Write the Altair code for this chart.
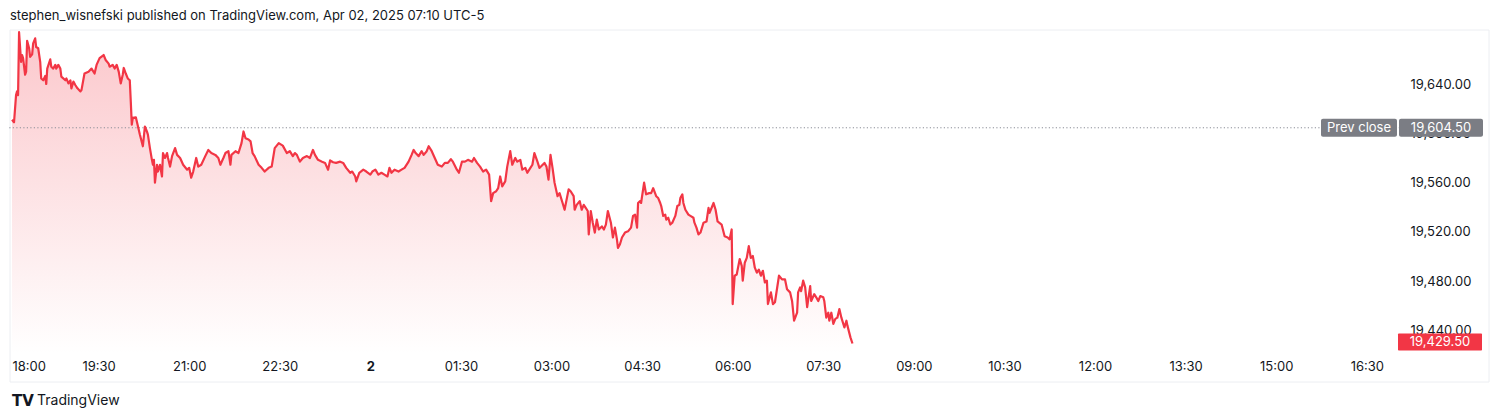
import altair as alt
import pandas as pd

TITLE = "stephen_wisnefski published on TradingView.com, Apr 02, 2025 07:10 UTC-5"
FONT = "Inter"
RED = "#F23645"
INK = "#131722"

# minutes since 18:00 (session start)
minutes = [
    4, 6, 8, 9, 10, 11, 13, 14, 15, 17,
    18, 19, 21, 22, 24, 25, 27, 28, 30, 32,
    33, 35, 37, 38, 39, 42, 43, 45, 47, 48,
    50, 52, 53, 57, 58, 60, 62, 63, 65, 67,
    69, 72, 73, 76, 80, 83, 86, 88, 91, 95,
    97, 100, 101, 104, 106, 108, 110, 112, 114, 115,
    117, 119, 121, 122, 123, 124, 127, 128, 131, 134,
    136, 138, 139, 141, 143, 144, 145, 146, 148, 149,
    151, 153, 154, 156, 158, 159, 161, 163, 166, 168,
    171, 174, 178, 180, 182, 184, 187, 189, 192, 196,
    199, 202, 206, 209, 211, 214, 216, 219, 221, 222,
    226, 229, 232, 234, 236, 239, 241, 243, 245, 249,
    252, 255, 259, 262, 265, 269,
    273, 277, 280, 283,
    285, 287, 290, 293, 297, 300, 303, 305, 308, 312,
    315, 318, 320, 323, 326, 330, 333, 336, 340, 342,
    345, 346, 349, 353, 356, 360, 362, 365, 368, 371,
    374, 377, 379, 381, 384, 388, 391, 394, 398, 401,
    403, 405, 408, 411, 413, 416, 418, 421, 424, 427,
    431, 434, 437, 440, 442, 446, 448, 451, 454, 457,
    461, 463, 466, 469, 472, 475, 478, 480, 482, 485,
    487, 489, 491, 494, 496, 499, 501, 504, 506, 509,
    511, 514, 516, 519, 521, 523, 526, 528, 530, 533,
    535, 537, 539, 541, 543, 546, 548, 551, 553, 557,
    559, 562,
    563, 565, 568, 570, 572, 574, 576, 577,
    579, 581, 583, 585, 587, 590, 592, 594, 596, 599,
    601, 603, 605, 606, 608, 610, 613, 616, 619, 621,
    623, 625, 626, 628, 629, 632, 634, 637, 639, 641,
    644, 646, 648, 649, 651, 653, 654, 656, 658, 660,
    663, 665, 667, 668, 670, 671, 673, 676, 678, 681,
    682, 684, 686,
    688, 691, 694, 696, 697, 701, 703,
    705, 709, 712, 715, 717, 719, 720, 722, 724, 727,
    729, 730, 732, 734, 736, 738, 740, 742, 744, 746,
    748, 750, 752, 754, 755, 758, 760, 762, 766, 769,
    772, 774, 777, 779, 781, 784, 785, 787, 788, 790,
    792, 794, 797, 798, 801, 803, 805, 807, 810, 811,
    813, 815, 816, 818, 820, 822, 824, 826, 828, 831,
    833, 834, 837, 839,
]

prices = [
    19611, 19609, 19631, 19634, 19631, 19682, 19658, 19663.5, 19661, 19647.5,
    19650, 19675, 19669, 19662, 19664, 19673, 19677, 19670, 19669, 19658,
    19644.5, 19643, 19646.5, 19640, 19652.5, 19660, 19654, 19652.5, 19655.5, 19652.5,
    19655.5, 19652.5, 19646, 19643, 19644.5, 19640.5, 19643, 19636.5, 19642, 19639,
    19636.5, 19634, 19635, 19648.5, 19650, 19652.5, 19648.5, 19655.5, 19661, 19663.5,
    19659.5, 19656.5, 19654, 19655.5, 19652.5, 19655.5, 19650, 19640.5, 19647.5, 19653,
    19648.5, 19644.5, 19643, 19625.5, 19607, 19612.5, 19613, 19609.5, 19599, 19589.5,
    19605.5, 19601.5, 19599, 19588, 19578.5, 19574.5, 19578.5, 19560, 19574.5, 19569,
    19574.5, 19565, 19584, 19580, 19584, 19580, 19573, 19581.5, 19588, 19582.5,
    19580, 19574.5, 19570.5, 19572, 19564, 19569, 19580, 19573, 19574.5, 19581.5,
    19586.5, 19584, 19582.5, 19580, 19574.5, 19580, 19584, 19585.5, 19574.5, 19582.5,
    19585.5, 19584, 19592, 19601.5, 19596, 19595, 19593.5, 19584, 19581.5, 19574.5,
    19572, 19569, 19572, 19573, 19588, 19592,
    19590, 19584, 19585.5, 19581.5,
    19584, 19582.5, 19577, 19580, 19581.5, 19580, 19586.5, 19582.5, 19578.5, 19577,
    19576, 19570.5, 19578, 19576.5, 19576, 19577, 19576, 19572, 19568, 19569,
    19565, 19561, 19568, 19570.5, 19569, 19566.5, 19569, 19570.5, 19566.5, 19568,
    19566.5, 19565, 19572, 19568, 19570.5, 19569, 19570.5, 19572, 19577, 19582.5,
    19586.5, 19584, 19581.5, 19585.5, 19582.5, 19585.5, 19589.5, 19585.5, 19580, 19574.5,
    19573, 19576, 19576, 19579, 19577, 19570.5, 19568, 19577, 19577, 19578.5,
    19577, 19580, 19576, 19573, 19569, 19570.5, 19566.5, 19545, 19551.5, 19553,
    19555.5, 19565, 19557, 19561, 19573, 19585.5, 19574.5, 19580, 19577, 19578.5,
    19570.5, 19572, 19568, 19572, 19574.5, 19584, 19577, 19572, 19573.5, 19576,
    19573, 19562.5, 19582.5, 19572, 19560, 19549, 19551.5, 19543.5, 19538, 19554.5,
    19553, 19549,
    19538, 19542, 19545, 19538, 19542, 19539.5, 19537, 19518,
    19537, 19527.5, 19519.5, 19530, 19522, 19524.5, 19522, 19526, 19537, 19527.5,
    19515.5, 19523.5, 19514, 19507, 19510, 19515.5, 19519.5, 19520.5, 19523.5, 19533,
    19534, 19523.5, 19543.5, 19545, 19543.5, 19560, 19550.5, 19551.5, 19551.5, 19555.5,
    19549, 19547.5, 19543.5, 19541, 19533, 19534, 19530, 19531.5, 19526, 19527.5,
    19533, 19541, 19542, 19547.5, 19550.5, 19543.5, 19538, 19534, 19533, 19531.5,
    19527.5, 19523.5, 19518,
    19519.5, 19527.5, 19528.5, 19539.5, 19535.5, 19543.5, 19538,
    19528.5, 19526, 19516.5, 19515.5, 19514, 19522, 19461.5, 19484.5, 19485.5, 19498,
    19492.5, 19480.5, 19495, 19499, 19508.5, 19499, 19500.5, 19491, 19487, 19489.5,
    19484.5, 19488.5, 19479, 19480.5, 19461.5, 19471, 19461.5, 19463, 19484.5, 19481.5,
    19481.5, 19473.5, 19471, 19464, 19448, 19454.5, 19471, 19475, 19472, 19480.5,
    19475, 19459, 19476, 19464, 19469.5, 19467, 19464, 19468, 19467, 19464,
    19450.5, 19454.5, 19448, 19454.5, 19445.5, 19449.5, 19450.5, 19457.5, 19450.5, 19442.5,
    19448, 19444, 19434.5, 19429.5,
]

PREV_CLOSE = 19604.5
LAST_PRICE = prices[-1]

x_tick_values = [0, 90, 180, 270, 360, 450, 540, 630, 720, 810, 900, 990, 1080, 1170, 1260, 1350]
x_tick_labels = ["18:00", "19:30", "21:00", "22:30", "2", "01:30", "03:00", "04:30",
                 "06:00", "07:30", "09:00", "10:30", "12:00", "13:30", "15:00", "16:30"]
y_tick_values = [19440, 19480, 19520, 19560, 19600, 19640]

X_DOMAIN = [0, 1383]
Y_DOMAIN = [19421.0, 19683.8]

n = min(len(minutes), len(prices))
df = pd.DataFrame({"minute": minutes[:n], "price": prices[:n]})

label_list = "[" + ",".join("'%s'" % s for s in x_tick_labels) + "]"

x_enc = alt.X(
    "minute:Q",
    scale=alt.Scale(domain=X_DOMAIN, nice=False, zero=False),
    axis=alt.Axis(
        values=x_tick_values,
        labelExpr=label_list + "[round(datum.value / 90)]",
        title=None, grid=False, ticks=False, domain=False,
        labelFont=FONT, labelFontSize=13, labelColor=INK,
        labelPadding=6, labelFlush=True, labelFlushOffset=-4, labelOverlap=False,
        labelFontWeight=alt.condition("datum.value == 360", alt.value(700), alt.value(400)),
        zindex=0,
    ),
)
y_enc = alt.Y(
    "price:Q",
    scale=alt.Scale(domain=Y_DOMAIN, nice=False, zero=False),
    axis=alt.Axis(
        orient="right", values=y_tick_values, format=",.2f",
        title=None, grid=False, ticks=False, domain=False,
        labelFont=FONT, labelFontSize=13, labelColor=INK,
        labelPadding=10, labelAlign="left", labelBaseline="middle",
        zindex=0,
    ),
)

base = alt.Chart(df)

area = base.mark_area(
    color=alt.Gradient(
        gradient="linear",
        stops=[
            alt.GradientStop(color="rgba(242,54,69,0.28)", offset=0),
            alt.GradientStop(color="rgba(242,54,69,0.0)", offset=1),
        ],
        x1=1, x2=1, y1=0, y2=1,
    )
).encode(x=x_enc, y=y_enc, y2=alt.datum(Y_DOMAIN[0]))

line = base.mark_line(color=RED, strokeWidth=2.2, strokeJoin="round").encode(
    x="minute:Q", y="price:Q"
)

prev_df = pd.DataFrame({"price": [PREV_CLOSE]})
last_df = pd.DataFrame({"price": [LAST_PRICE]})

prev_rule = alt.Chart(prev_df).mark_rule(
    color="#8a8d96", strokeDash=[1.2, 2.3], strokeWidth=1
).encode(y="price:Q")

prev_box = alt.Chart(prev_df).mark_rect(
    color="#7b7d84", yOffset=-9, y2Offset=9, cornerRadius=2
).encode(y="price:Q", y2="price:Q", x=alt.value(1313), x2=alt.value(1389))
prev_vbox = alt.Chart(prev_df).mark_rect(
    color="#7b7d84", yOffset=-9, y2Offset=9, cornerRadius=2
).encode(y="price:Q", y2="price:Q", x=alt.value(1391), x2=alt.value(1475))
prev_txt = alt.Chart(prev_df).mark_text(
    color="white", font=FONT, fontSize=13, baseline="middle", align="center"
).encode(y="price:Q", x=alt.value(1351), text=alt.value("Prev close"))
prev_vtxt = alt.Chart(prev_df).mark_text(
    color="white", font=FONT, fontSize=13, baseline="middle", align="center"
).encode(y="price:Q", x=alt.value(1433), text=alt.Text("price:Q", format=",.2f"))

last_box = alt.Chart(last_df).mark_rect(
    color=RED, yOffset=-10, y2Offset=7, cornerRadius=1
).encode(y="price:Q", y2="price:Q", x=alt.value(1390), x2=alt.value(1474))
last_txt = alt.Chart(last_df).mark_text(
    color="white", font=FONT, fontSize=13, baseline="middle", align="center", dy=-1.5
).encode(y="price:Q", x=alt.value(1432), text=alt.Text("price:Q", format=",.2f"))

frame = alt.Chart(prev_df).mark_rect(
    fillOpacity=0, stroke="#eceef2", strokeWidth=1
).encode(x=alt.value(2), x2=alt.value(1481), y=alt.value(0), y2=alt.value(352))

title_txt = alt.Chart(prev_df).mark_text(
    font=FONT, fontSize=13, color=INK, align="left", baseline="alphabetic"
).encode(x=alt.value(2), y=alt.value(-10), text=alt.value(TITLE))

logo = alt.Chart(prev_df).mark_text(
    font="DejaVu Sans", fontSize=15, fontWeight=900, color=INK, align="left",
    baseline="middle"
).encode(x=alt.value(4), y=alt.value(371), text=alt.value("TV"))
brand = alt.Chart(prev_df).mark_text(
    font=FONT, fontSize=14, color=INK, align="left", baseline="middle"
).encode(x=alt.value(29), y=alt.value(371), text=alt.value("TradingView"))

chart = alt.layer(
    frame, area, prev_rule, line, prev_box, prev_vbox, prev_txt, prev_vtxt,
    last_box, last_txt, title_txt, logo, brand
).properties(
    width=1392,
    height=324,
    padding={"left": 0, "top": 22, "right": 92, "bottom": 56},
    autosize=alt.AutoSizeParams(type="none"),
    background="white",
).configure_view(strokeWidth=0, stroke=None)

chart.save("out.html", embed_options={"renderer": "svg", "actions": False})
